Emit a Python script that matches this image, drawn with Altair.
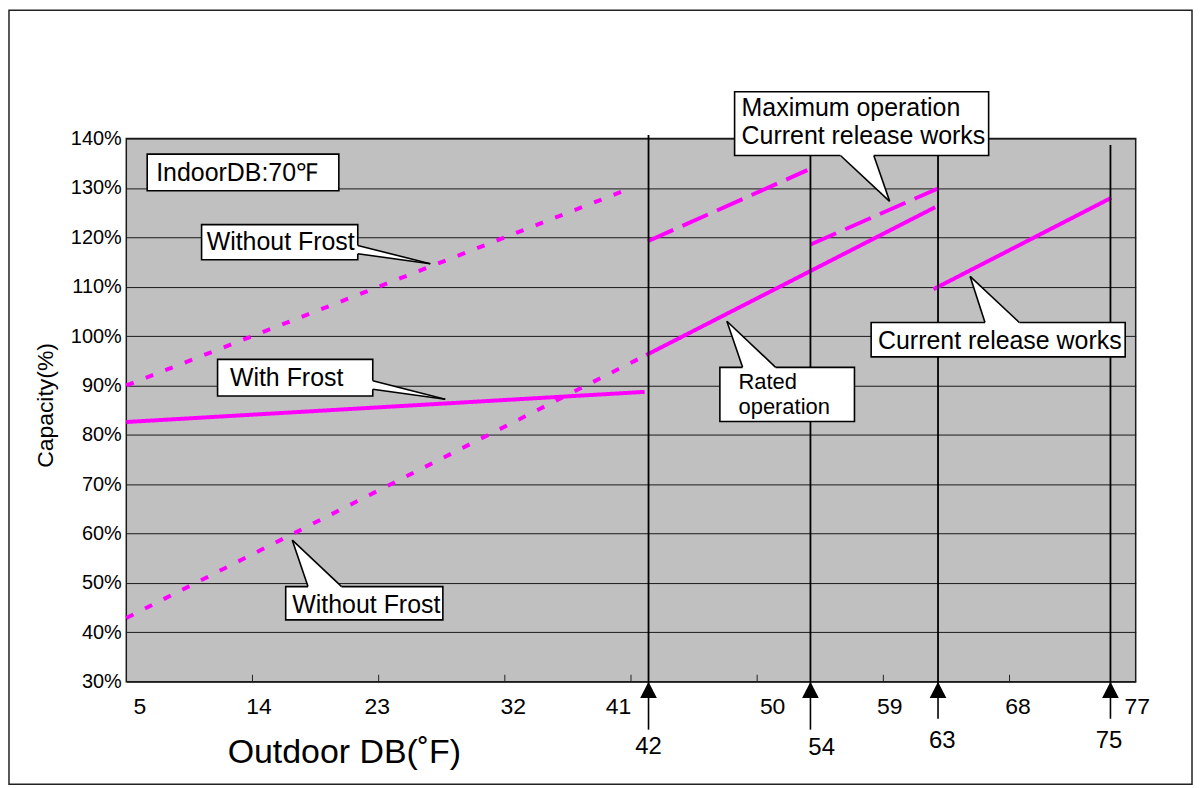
import altair as alt
import pandas as pd

# ---------------- data ----------------
x_ticks = [5, 14, 23, 32, 41, 50, 59, 68, 77]
inner_ticks = [14, 23, 32, 41, 50, 59, 68]
y_ticks = [30, 40, 50, 60, 70, 80, 90, 100, 110, 120, 130, 140]

series_names = ["Without Frost (upper)", "Without Frost (lower)", "Rated operation",
                "With Frost", "Maximum operation A", "Maximum operation B",
                "Current release works"]
series_style = ["dot", "dot", "solid", "solid", "dash", "dash", "solid"]
series_x0 = [5.0, 5.0, 42.08, 5.0, 42.2, 53.81, 62.58]
series_x1 = [41.1, 42.08, 62.7, 41.97, 53.58, 62.98, 75.26]
series_y0 = [90.0, 42.9, 96.15, 82.6, 119.2, 118.55, 109.5]
series_y1 = [130.1, 96.15, 126.1, 88.7, 133.6, 130.0, 128.0]

# vertical marker lines with arrows
marker_x = [42.25, 53.8, 62.9, 75.2]
marker_labels = ["42", "54", "63", "75"]
marker_top = [140.7, 140.7, 140.7, 138.7]
marker_stem_end = [20.3, 20.3, 22.5, 22.5]
marker_label_x = [42.25, 54.6, 63.2, 75.1]
marker_label_y = [16.8, 16.6, 17.9, 17.9]

# callout boxes (data units)
box_x1 = [6.49, 10.37, 11.51, 16.37, 47.34, 48.39, 58.13]
box_x2 = [20.16, 21.51, 22.58, 27.58, 56.94, 66.51, 76.25]
box_ytop = [136.85, 122.58, 95.28, 49.27, 93.67, 149.49, 102.75]
box_ybot = [129.44, 115.46, 87.87, 42.53, 82.69, 136.57, 95.8]

# single-line callout texts
text_lines = ["IndoorDB:70℉", "Without Frost", "With Frost", "Without Frost",
              "Current release works"]
text_x = [7.13, 10.73, 12.39, 16.84, 58.62]
text_y = [131.46, 117.48, 89.89, 44.02, 97.3]

# two-line callout texts
rated_text = "Rated\noperation"
rated_x, rated_y = 48.67, 89.29
max_text = "Maximum operation\nCurrent release works"
max_x, max_y = 48.89, 144.58

# wedges coming out of the side of a box: base x, base y1, base y2, apex x, apex y
side_wedge_bx = [21.51, 22.58]
side_wedge_b1 = [118.35, 90.96]
side_wedge_b2 = [116.67, 89.23]
side_wedge_ax = [26.68, 27.75]
side_wedge_ay = [114.65, 87.2]

# wedges coming out of the top/bottom of a box: base y, base x1, base x2, apex x, apex y
tb_wedge_by = [49.27, 93.67, 136.57, 102.75]
tb_wedge_b1 = [17.96, 48.96, 55.94, 66.25]
tb_wedge_b2 = [20.36, 51.32, 58.32, 68.7]
tb_wedge_ax = [16.84, 47.84, 59.45, 65.19]
tb_wedge_ay = [58.67, 103.0, 127.29, 112.09]

# ---------------- layout ----------------
W, H = 1012.8, 545
PAD_L, PAD_T = 118.7, 129.7
PAD_R = 1189 - PAD_L - W
PAD_B = 779 - PAD_T - H
ARROW_HALF = 0.594
ARROW_BASE = 26.73
FONT = "Liberation Sans"
MAGENTA = "#ff00ff"
# horizontal nudges (px) of the x tick labels as placed in the original
x_label_nudge = {5: 13, 14: 6, 23: -2, 32: 8, 41: -13, 50: 15, 59: 6, 68: 8, 77: 1}

xs = alt.Scale(domain=[5, 77], nice=False, zero=False)
ys = alt.Scale(domain=[30, 140], nice=False, zero=False)

x_axis = alt.Axis(values=x_ticks, title="Outdoor DB(˚F)", titleFontSize=34,
                  titleFontWeight="normal", titleX=218.3, titleY=81,
                  titleBaseline="alphabetic", titleAlign="center", titleColor="black",
                  labelFontSize=23, labelPadding=14, labelColor="black", labelFlush=False,
                  labelOffset={"condition": [{"test": f"datum.value == {v}", "value": o}
                                             for v, o in x_label_nudge.items()],
                               "value": 0},
                  ticks=False, tickSize=0, domain=False, grid=False, labelOverlap=False,
                  labelFont=FONT, titleFont=FONT)
y_axis = alt.Axis(values=y_ticks, labelExpr="datum.value + '%'", title="Capacity(%)",
                  titleFontSize=23, titleFontWeight="normal", titleX=-74.4, titleY=267.3,
                  titleAngle=270, titleBaseline="alphabetic", titleAlign="center",
                  titleColor="black", labelFontSize=20, labelPadding=5, labelColor="black",
                  ticks=False, tickSize=0, domain=False, grid=True, gridColor="#1a1a1a",
                  gridWidth=1, labelOverlap=False, labelFont=FONT, titleFont=FONT)


def X(f):
    return alt.X(f, type="quantitative", scale=xs, axis=x_axis)


def Y(f):
    return alt.Y(f, type="quantitative", scale=ys, axis=y_axis)


# ---------------- tables ----------------
rows = []
for n, st, a0, a1, b0, b1 in zip(series_names, series_style, series_x0, series_x1,
                                  series_y0, series_y1):
    rows.append({"series": n, "style": st, "x": a0, "y": b0})
    rows.append({"series": n, "style": st, "x": a1, "y": b1})
lines_df = pd.DataFrame(rows)

vr_df = pd.DataFrame({"x": marker_x, "y": [30] * 4, "y2": marker_top})
stem_df = pd.DataFrame({"x": marker_x, "y": [30] * 4, "y2": marker_stem_end})
heads = []
for i, mx in enumerate(marker_x):
    heads.append({"id": i, "y": 30, "x": mx, "x2": mx})
    heads.append({"id": i, "y": ARROW_BASE, "x": mx - ARROW_HALF, "x2": mx + ARROW_HALF})
heads_df = pd.DataFrame(heads)
mlab_df = pd.DataFrame({"x": marker_label_x, "y": marker_label_y, "t": marker_labels})
ticks_df = pd.DataFrame({"x": inner_ticks, "y": [30] * len(inner_ticks),
                         "y2": [31.41] * len(inner_ticks)})

box_df = pd.DataFrame({"x": box_x1, "x2": box_x2, "y": box_ytop, "y2": box_ybot})
text_df = pd.DataFrame({"x": text_x, "y": text_y, "t": text_lines})
rated_df = pd.DataFrame({"x": [rated_x], "y": [rated_y], "t": [rated_text]})
max_df = pd.DataFrame({"x": [max_x], "y": [max_y], "t": [max_text]})

sw, covers, edges = [], [], []
for i, (bx, b1, b2, ax, ay) in enumerate(zip(side_wedge_bx, side_wedge_b1, side_wedge_b2,
                                              side_wedge_ax, side_wedge_ay)):
    sw.append({"id": i, "x": bx, "y": b1, "y2": b2})
    sw.append({"id": i, "x": ax, "y": ay, "y2": ay})
    covers.append({"x": bx, "x2": bx, "y": b1, "y2": b2})
    edges.append({"x": bx, "y": b1, "x2": ax, "y2": ay})
    edges.append({"x": bx, "y": b2, "x2": ax, "y2": ay})
sw_df = pd.DataFrame(sw)

tw = []
for i, (by, b1, b2, ax, ay) in enumerate(zip(tb_wedge_by, tb_wedge_b1, tb_wedge_b2,
                                              tb_wedge_ax, tb_wedge_ay)):
    tw.append({"id": i, "y": by, "x": b1, "x2": b2})
    tw.append({"id": i, "y": ay, "x": ax, "x2": ax})
    covers.append({"x": b1, "x2": b2, "y": by, "y2": by})
    edges.append({"x": b1, "y": by, "x2": ax, "y2": ay})
    edges.append({"x": b2, "y": by, "x2": ax, "y2": ay})
tw_df = pd.DataFrame(tw)
cover_df = pd.DataFrame(covers)
edge_df = pd.DataFrame(edges)

# ---------------- layers ----------------
frame = alt.Chart(pd.DataFrame({"a": [0]})).mark_rect(
    fill=None, stroke="#222222", strokeWidth=1.5).encode(
    x=alt.value(-PAD_L + 1), x2=alt.value(W + PAD_R - 1),
    y=alt.value(-PAD_T + 1), y2=alt.value(H + PAD_B - 1.5))

lines = alt.Chart(lines_df).mark_line(strokeWidth=4, strokeCap="butt", color=MAGENTA).encode(
    x=X("x"), y=Y("y"), detail="series:N",
    strokeDash=alt.StrokeDash("style:N", legend=None,
                              scale=alt.Scale(domain=["solid", "dot", "dash"],
                                              range=[[1, 0], [8, 13], [28, 10]])))

vrules = alt.Chart(vr_df).mark_rule(color="black", strokeWidth=1.8).encode(
    x=X("x"), y=Y("y"), y2="y2")
stems = alt.Chart(stem_df).mark_rule(color="black", strokeWidth=1.6).encode(
    x=X("x"), y=Y("y"), y2="y2")
arrowheads = alt.Chart(heads_df).mark_area(orient="horizontal", color="black").encode(
    y=Y("y"), x=X("x"), x2="x2", detail="id:N")
mlabels = alt.Chart(mlab_df).mark_text(fontSize=24, align="center", baseline="middle",
                                       color="black", font=FONT).encode(
    x=X("x"), y=Y("y"), text="t:N")
xticks = alt.Chart(ticks_df).mark_rule(color="#222222", strokeWidth=1).encode(
    x=X("x"), y=Y("y"), y2="y2")

boxes = alt.Chart(box_df).mark_rect(fill="white", stroke="black", strokeWidth=1.6).encode(
    x=X("x"), x2="x2", y=Y("y"), y2="y2")
side_w = alt.Chart(sw_df).mark_area(orient="vertical", color="white").encode(
    x=X("x"), y=Y("y"), y2="y2", detail="id:N")
tb_w = alt.Chart(tw_df).mark_area(orient="horizontal", color="white").encode(
    y=Y("y"), x=X("x"), x2="x2", detail="id:N")
cover = alt.Chart(cover_df).mark_rule(color="white", strokeWidth=3.5).encode(
    x=X("x"), x2="x2", y=Y("y"), y2="y2")
edge = alt.Chart(edge_df).mark_rule(color="black", strokeWidth=1.6).encode(
    x=X("x"), x2="x2", y=Y("y"), y2="y2")
texts = alt.Chart(text_df).mark_text(fontSize=25, align="left", baseline="alphabetic",
                                     color="black", font=FONT).encode(
    x=X("x"), y=Y("y"), text="t:N")
rated = alt.Chart(rated_df).mark_text(fontSize=22, align="left", baseline="alphabetic",
                                      lineBreak="\n", lineHeight=25.5,
                                      color="black", font=FONT).encode(
    x=X("x"), y=Y("y"), text="t:N")
maxop = alt.Chart(max_df).mark_text(fontSize=25, align="left", baseline="alphabetic",
                                    lineBreak="\n", lineHeight=27.7,
                                    color="black", font=FONT).encode(
    x=X("x"), y=Y("y"), text="t:N")

chart = alt.layer(
    frame, lines, vrules, stems, arrowheads, xticks, mlabels,
    boxes, side_w, tb_w, cover, edge, texts, rated, maxop
).properties(
    width=W, height=H,
    autosize=alt.AutoSizeParams(type="none"),
    padding={"left": PAD_L, "top": PAD_T, "right": PAD_R, "bottom": PAD_B},
).configure(font=FONT).configure_view(fill="#c0c0c0", stroke="#1a1a1a", strokeWidth=1.5)

chart.save("out.html", embed_options={"renderer": "svg", "actions": False})
